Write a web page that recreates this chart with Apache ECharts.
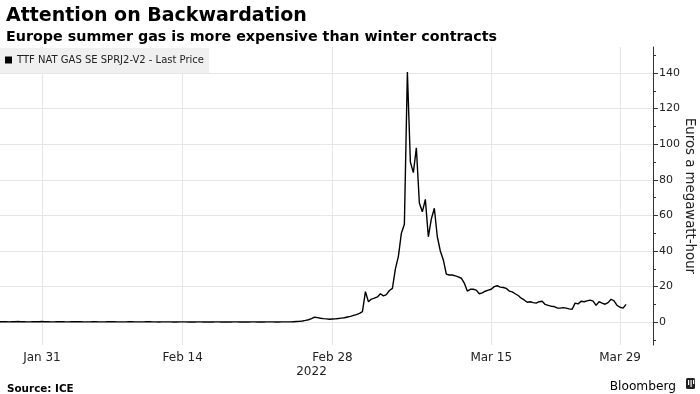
<!DOCTYPE html>
<html>
<head>
<meta charset="utf-8">
<script src="https://cdn.jsdelivr.net/npm/echarts@6/dist/echarts.min.js"></script>
<style>
html,body{margin:0;padding:0;background:#fff;}
#chart{width:700px;height:394px;}
</style>
</head>
<body>
<div id="chart"></div>
<script>
// Sampling periods: each period starts at a date and holds a number of price samples
const periodStarts = ['Jan 27', 'Jan 31', 'Feb 14', 'Feb 28', 'Mar 15', 'Mar 29'];
const periodSamples = [14, 47, 50, 53, 43, 12];
const tickLabels = ['Jan 31', 'Feb 14', 'Feb 28', 'Mar 15', 'Mar 29'];
const yearLabel = '2022';
const yTicks = [0, 20, 40, 60, 80, 100, 120, 140];
const yMinorTicks = [-10, 10, 30, 50, 70, 90, 110, 130, 150];
const seriesName = 'TTF NAT GAS SE SPRJ2-V2 - Last Price';

// Euros per MWh, summer-winter spread
const prices = [
  0.3,0.3,0.3,0.2,0.3,0.3,0.4,0.3,0.3,0.2,
  0.2,0.3,0.3,0.3,0.4,0.3,0.3,0.2,0.2,0.3,
  0.3,0.3,0.2,0.2,0.3,0.3,0.3,0.3,0.2,0.2,
  0.2,0.3,0.3,0.2,0.2,0.2,0.3,0.3,0.3,0.2,
  0.2,0.2,0.2,0.3,0.3,0.2,0.2,0.2,0.2,0.3,
  0.3,0.2,0.2,0.1,0.2,0.2,0.2,0.2,0.1,0.1,
  0.2,0.2,0.2,0.1,0.1,0.1,0.2,0.2,0.1,0.1,
  0.1,0.1,0.2,0.2,0.1,0.1,0.1,0.1,0.2,0.2,
  0.1,0.1,0.1,0.1,0.2,0.2,0.1,0.1,0.1,0.2,
  0.2,0.2,0.1,0.1,0.2,0.2,0.2,
  0.2,0.3,0.4,0.5,0.7,1.0,1.4,2.0,2.8,2.6,
  2.2,2.0,1.9,1.7,1.8,1.9,2.1,2.3,2.5,2.9,
  3.3,3.8,4.3,5.0,6.0,17.2,11.5,13.0,13.5,14.2,
  16.0,14.8,15.5,17.8,19.0,30.0,37.0,50.0,55.0,140.5,
  90.0,84.0,98.0,67.0,62.0,69.0,48.0,58.0,64.0,48.0,
  40.0,35.0,27.0,26.5,26.5,26.0,25.5,24.7,22.0,17.5,
  18.5,18.5,18.0,16.0,16.5,17.4,18.0,18.5,20.0,20.5,
  19.7,19.5,19.0,17.5,17.0,16.0,15.0,13.5,12.5,11.2,
  11.5,11.0,10.7,11.5,11.8,10.0,9.5,9.0,8.8,8.0,
  7.9,8.2,7.9,7.5,7.3,10.7,10.3,11.8,11.5,12.0,
  12.4,11.8,9.5,11.5,10.7,10.1,11.0,12.9,12.0,9.5,
  8.4,7.9,10.0
];

const categories = [];
periodStarts.forEach((d, p) => {
  for (let k = 0; k < periodSamples[p]; k++) {
    categories.push(k === 0 ? d : d + ' #' + k);
  }
});

const FONT = 'DejaVu Sans';
const chart = echarts.init(document.getElementById('chart'), null, {renderer: 'canvas'});
const showTick = (idx, val) => tickLabels.indexOf(val) >= 0;

chart.setOption({
  animation: false,
  backgroundColor: '#ffffff',
  textStyle: {fontFamily: FONT},
  title: [
    {text: 'Attention on Backwardation', left: 1, top: 2,
      textStyle: {fontFamily: FONT, fontWeight: 'bold', fontSize: 19, color: '#000'}},
    {text: 'Europe summer gas is more expensive than winter contracts', left: 1, top: 25,
      textStyle: {fontFamily: FONT, fontWeight: 'bold', fontSize: 14.3, color: '#000'}},
    {text: 'Source: ICE', left: 2, top: 379,
      textStyle: {fontFamily: FONT, fontWeight: 'bold', fontSize: 10.4, color: '#000'}},
    {text: 'Bloomberg', right: 19, top: 376,
      textStyle: {fontFamily: FONT, fontWeight: 'normal', fontSize: 12.2, color: '#000'}}
  ],
  graphic: [
    {type: 'rect', left: 686, top: 378, shape: {width: 9, height: 11, r: 1.5}, style: {fill: '#222'}},
    {type: 'rect', left: 688, top: 380, shape: {width: 1.2, height: 5}, style: {fill: '#fff'}},
    {type: 'rect', left: 690.5, top: 380, shape: {width: 1.2, height: 7}, style: {fill: '#fff'}},
    {type: 'rect', left: 693, top: 380, shape: {width: 1.2, height: 4}, style: {fill: '#fff'}}
  ],
  legend: {
    left: 0, top: 48,
    backgroundColor: '#f0f0f0',
    padding: [7, 5, 8, 5],
    icon: 'rect', itemWidth: 7, itemHeight: 7,
    textStyle: {fontFamily: FONT, fontSize: 10, color: '#222'},
    data: [seriesName]
  },
  grid: {left: 0, right: 47, top: 47, bottom: 49, containLabel: false, outerBoundsMode: 'none'},
  xAxis: {
    type: 'category',
    data: categories,
    boundaryGap: false,
    axisLine: {show: false},
    axisTick: {show: false},
    axisLabel: {
      interval: showTick,
      margin: 6,
      fontFamily: FONT, fontSize: 12, color: '#222', lineHeight: 14,
      formatter: v => v === 'Feb 28' ? v + '\n{yr|' + yearLabel + '}' : v,
      rich: {yr: {fontFamily: FONT, fontSize: 12, color: '#222', lineHeight: 14, padding: [0, 42, 0, 0]}}
    },
    splitLine: {show: true, interval: showTick, lineStyle: {color: '#e6e6e6', width: 1}}
  },
  yAxis: [
    {
      type: 'value', position: 'right',
      min: -12.8, max: 154.6,
      minInterval: 20, maxInterval: 20,
      name: 'Euros a megawatt-hour',
      nameLocation: 'middle', nameRotate: -90, nameGap: 30,
      nameMoveOverlap: false,
      nameTextStyle: {fontFamily: FONT, fontSize: 13.3, color: '#222'},
      axisLine: {show: true, lineStyle: {color: '#333', width: 1}},
      axisTick: {show: true, customValues: yTicks, length: 5, lineStyle: {color: '#333'}},
      axisLabel: {customValues: yTicks, margin: 6, fontFamily: FONT, fontSize: 11, color: '#222'},
      splitLine: {show: true, lineStyle: {color: '#e6e6e6', width: 1}}
    },
    {
      type: 'value', position: 'right',
      min: -12.8, max: 154.6,
      axisLine: {show: false},
      axisTick: {show: true, customValues: yMinorTicks, length: 3, lineStyle: {color: '#333'}},
      axisLabel: {show: false},
      splitLine: {show: false}
    }
  ],
  series: [{
    name: seriesName,
    type: 'line',
    yAxisIndex: 0,
    data: prices,
    showSymbol: false,
    symbol: 'none',
    itemStyle: {color: '#000'},
    lineStyle: {color: '#000', width: 1.4},
    z: 3
  }]
});
</script>
</body>
</html>
